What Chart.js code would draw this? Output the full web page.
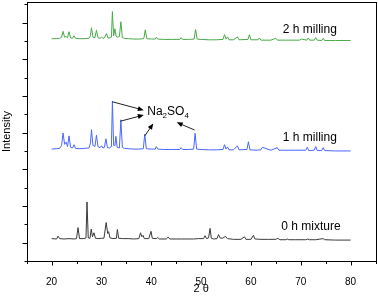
<!DOCTYPE html>
<html>
<head>
<meta charset="utf-8">
<script src="https://cdn.jsdelivr.net/npm/chart.js@4.4.0/dist/chart.umd.min.js"></script>
<style>
  html, body { margin: 0; padding: 0; background: #fff; }
  #wrap { width: 378px; height: 296px; }
</style>
</head>
<body>
<div id="wrap"><canvas id="xrd"></canvas></div>
<script>
// XRD patterns, intensity in arbitrary (offset) units
const xTickLabels = [20, 30, 40, 50, 60, 70, 80];
const xMinorTicks = [15, 25, 35, 45, 55, 65, 75, 85];
const yMajorTicks = [0.5, 1.5, 2.5, 3.5, 4.5, 5.5, 6.5];
const yMinorTicks = [0, 1, 2, 3, 4, 5, 6, 7];

const mixX = [20, 21.0, 21.3, 21.6, 22.5, 23.5, 24.5, 25.0, 25.3, 25.6, 26.5, 26.9, 27.1, 27.35, 27.7, 27.95, 28.2, 28.5, 28.8, 29.5,
  30.0, 30.5, 30.95, 31.25, 31.45, 31.7, 32.3, 33.0, 33.2, 33.45, 34.2, 35.5, 36.5, 37.5, 37.85, 38.1, 38.35, 38.6, 39.5, 39.95,
  40.2, 41.0, 41.3, 41.6, 43.0, 43.4, 43.7, 45, 46, 47, 48.5, 49.5, 50.5, 50.8, 51.1, 51.5, 51.8, 52.05, 52.5, 53.2,
  53.5, 53.8, 54.3, 54.9, 55.3, 56.5, 58, 58.7, 59.0, 60.0, 60.5, 60.8, 62, 63.5, 65, 65.4, 65.8, 67, 67.3, 67.6,
  69, 71, 71.4, 71.7, 73, 74.5, 74.8, 77, 80];
const mixY = [0.61, 0.60, 0.68, 0.61, 0.60, 0.61, 0.60, 0.61, 0.91, 0.61, 0.61, 0.63, 1.61, 0.63, 0.62, 0.87, 0.66, 0.77, 0.62, 0.61,
  0.62, 0.62, 1.05, 0.75, 0.80, 0.63, 0.61, 0.62, 0.86, 0.62, 0.61, 0.61, 0.60, 0.61, 0.77, 0.66, 0.70, 0.61, 0.61, 0.81,
  0.62, 0.61, 0.64, 0.60, 0.60, 0.65, 0.60, 0.60, 0.60, 0.60, 0.60, 0.61, 0.61, 0.69, 0.61, 0.63, 0.89, 0.62, 0.60, 0.61,
  0.72, 0.63, 0.62, 0.67, 0.61, 0.59, 0.59, 0.66, 0.59, 0.59, 0.70, 0.60, 0.59, 0.59, 0.59, 0.62, 0.58, 0.58, 0.60, 0.58,
  0.58, 0.58, 0.60, 0.58, 0.58, 0.61, 0.58, 0.57, 0.57];

const mill1X = [20, 21.0, 21.6, 22.0, 22.3, 22.6, 22.9, 23.2, 23.5, 23.8, 24.2, 24.5, 24.8, 25.5, 26.5, 27.5, 27.8, 28.0, 28.3, 28.7,
  29.0, 29.3, 29.7, 30.0, 30.3, 30.6, 30.9, 31.2, 31.6, 32.0, 32.2, 32.45, 32.7, 32.9, 33.15, 33.6, 33.9, 34.2, 34.6, 35.5,
  36.5, 37.5, 38.4, 38.7, 39.0, 40.0, 40.8, 41.0, 41.3, 42.5, 44, 45.7, 46.0, 46.3, 47.5, 48.5, 48.8, 49.1, 50, 51.5,
  53, 54.4, 54.7, 55.0, 55.3, 55.6, 56.5, 57.3, 57.6, 59.2, 59.5, 59.8, 61, 62, 62.3, 64, 65.3, 65.6, 67, 69,
  71.0, 71.3, 71.6, 72.7, 73.0, 73.3, 74.2, 74.5, 74.8, 77, 80];
const mill1Y = [3.05, 3.06, 3.07, 3.15, 3.49, 3.18, 3.24, 3.12, 3.41, 3.10, 3.08, 3.17, 3.07, 3.06, 3.07, 3.08, 3.22, 3.58, 3.15, 3.12,
  3.43, 3.12, 3.09, 3.14, 3.08, 3.10, 3.33, 3.09, 3.08, 3.12, 4.36, 3.15, 3.14, 3.40, 3.10, 3.08, 3.85, 3.10, 3.07, 3.06,
  3.05, 3.05, 3.06, 3.46, 3.06, 3.05, 3.05, 3.12, 3.05, 3.04, 3.04, 3.04, 3.09, 3.04, 3.04, 3.05, 3.48, 3.05, 3.04, 3.03,
  3.03, 3.04, 3.17, 3.05, 3.11, 3.03, 3.03, 3.14, 3.03, 3.04, 3.25, 3.03, 3.02, 3.03, 3.10, 3.02, 3.09, 3.02, 3.02, 3.02,
  3.02, 3.10, 3.01, 3.02, 3.12, 3.01, 3.01, 3.09, 3.01, 3.00, 3.00];

const mill2X = [20, 21.0, 21.6, 22.0, 22.3, 22.6, 22.9, 23.2, 23.5, 23.8, 24.2, 24.5, 24.8, 25.5, 26.5, 27.5, 27.8, 28.0, 28.3, 28.7,
  29.0, 29.3, 29.7, 30.0, 30.3, 30.6, 31.0, 31.3, 31.7, 32.0, 32.2, 32.45, 32.7, 32.95, 33.3, 33.6, 33.9, 34.2, 34.6, 35.5,
  36.5, 37.5, 38.5, 38.8, 39.1, 40.0, 40.8, 41.0, 41.3, 42.5, 44, 45.7, 46.0, 46.3, 47.5, 48.6, 48.9, 49.2, 50, 51.5,
  53, 54.4, 54.7, 55.0, 55.3, 55.6, 56.5, 57.3, 57.6, 59.4, 59.7, 60.0, 61.4, 61.7, 62.0, 64, 65.0, 65.3, 67, 69.8,
  70.1, 71.2, 71.5, 71.8, 72.7, 73.0, 73.3, 74.2, 74.5, 74.8, 77, 80];
const mill2Y = [6.06, 6.06, 6.07, 6.10, 6.26, 6.10, 6.12, 6.09, 6.25, 6.08, 6.07, 6.14, 6.07, 6.06, 6.06, 6.07, 6.14, 6.36, 6.10, 6.09,
  6.29, 6.09, 6.07, 6.10, 6.07, 6.08, 6.20, 6.08, 6.08, 6.10, 6.80, 6.14, 6.33, 6.12, 6.10, 6.12, 6.52, 6.09, 6.07, 6.06,
  6.05, 6.05, 6.06, 6.30, 6.06, 6.05, 6.05, 6.10, 6.05, 6.04, 6.04, 6.04, 6.09, 6.04, 6.04, 6.05, 6.31, 6.05, 6.04, 6.03,
  6.03, 6.04, 6.17, 6.05, 6.11, 6.03, 6.03, 6.11, 6.03, 6.04, 6.17, 6.03, 6.03, 6.08, 6.02, 6.02, 6.07, 6.02, 6.02, 6.02,
  6.05, 6.02, 6.08, 6.02, 6.02, 6.09, 6.02, 6.01, 6.07, 6.01, 6.01, 6.01];

// text labels and arrows, in data units
const seriesNames = ['0 h mixture', '1 h milling', '2 h milling'];
const nameX = [66.1, 66.4, 66.4];
const nameY = [0.93, 3.37, 6.31];
const phaseLabel = { x: 39.2, y: 4.07 };
const arrowFrom = [[32.2, 4.34], [33.8, 3.81], [38.7, 3.41], [48.7, 3.57]];
const arrowTo = [[38.5, 4.11], [38.5, 3.98], [40.4, 3.75], [45.1, 3.78]];

const FONT = '"Liberation Sans", Arial, sans-serif';
const pts = (xs, ys) => xs.map((x, i) => ({ x: x, y: ys[i] }));

const frame = {
  id: 'frame',
  afterDraw(chart) {
    const ctx = chart.ctx;
    const a = chart.chartArea;
    const xs = chart.scales.x, ys = chart.scales.y;
    ctx.save();
    ctx.strokeStyle = '#000';
    ctx.lineWidth = 1;
    ctx.strokeRect(Math.round(a.left) + 0.5, Math.round(a.top) + 0.5,
      Math.round(a.right) - Math.round(a.left), Math.round(a.bottom) - Math.round(a.top));
    ctx.beginPath();
    const by = Math.round(a.bottom) + 0.5;
    xTickLabels.forEach(v => { const p = Math.round(xs.getPixelForValue(v)) + 0.5; ctx.moveTo(p, by); ctx.lineTo(p, by + 4); });
    xMinorTicks.forEach(v => { const p = Math.round(xs.getPixelForValue(v)) + 0.5; ctx.moveTo(p, by); ctx.lineTo(p, by + 2.5); });
    const lx = Math.round(a.left) + 0.5;
    yMajorTicks.forEach(v => { const p = Math.round(ys.getPixelForValue(v)) + 0.5; ctx.moveTo(lx, p); ctx.lineTo(lx - 5, p); });
    yMinorTicks.forEach(v => { const p = Math.round(ys.getPixelForValue(v)) + 0.5; ctx.moveTo(lx, p); ctx.lineTo(lx - 3, p); });
    ctx.stroke();

    // series names
    ctx.fillStyle = '#000';
    ctx.font = '12px ' + FONT;
    ctx.textBaseline = 'middle';
    seriesNames.forEach((s, i) => ctx.fillText(s, xs.getPixelForValue(nameX[i]), ys.getPixelForValue(nameY[i])));

    // Na2SO4 with subscripts
    let tx = xs.getPixelForValue(phaseLabel.x);
    const ty = ys.getPixelForValue(phaseLabel.y);
    [['Na', 0], ['2', 1], ['SO', 0], ['4', 1]].forEach(([t, sub]) => {
      ctx.font = (sub ? '8px ' : '12px ') + FONT;
      ctx.fillText(t, tx, ty + (sub ? 4 : 0));
      tx += ctx.measureText(t).width;
    });

    // arrows
    ctx.strokeStyle = '#222';
    ctx.fillStyle = '#000';
    arrowFrom.forEach((f, i) => {
      const x0 = xs.getPixelForValue(f[0]), y0 = ys.getPixelForValue(f[1]);
      const x1 = xs.getPixelForValue(arrowTo[i][0]), y1 = ys.getPixelForValue(arrowTo[i][1]);
      const ang = Math.atan2(y1 - y0, x1 - x0);
      ctx.beginPath();
      ctx.moveTo(x0, y0);
      ctx.lineTo(x1 - 4 * Math.cos(ang), y1 - 4 * Math.sin(ang));
      ctx.stroke();
      ctx.beginPath();
      ctx.moveTo(x1, y1);
      ctx.lineTo(x1 - 6 * Math.cos(ang) + 2.5 * Math.sin(ang), y1 - 6 * Math.sin(ang) - 2.5 * Math.cos(ang));
      ctx.lineTo(x1 - 6 * Math.cos(ang) - 2.5 * Math.sin(ang), y1 - 6 * Math.sin(ang) + 2.5 * Math.cos(ang));
      ctx.closePath();
      ctx.fill();
    });
    ctx.restore();
  }
};

new Chart(document.getElementById('xrd'), {
  type: 'line',
  data: {
    datasets: [
      { label: '0 h mixture', data: pts(mixX, mixY), borderColor: '#3a3a3a' },
      { label: '1 h milling', data: pts(mill1X, mill1Y), borderColor: '#4a66ff' },
      { label: '2 h milling', data: pts(mill2X, mill2Y), borderColor: '#4aaa4a' }
    ]
  },
  options: {
    responsive: true,
    maintainAspectRatio: false,
    animation: false,
    layout: { padding: { top: 2, right: 2.5, left: 0, bottom: 0 } },
    elements: { point: { radius: 0 }, line: { borderWidth: 1, tension: 0 } },
    plugins: { legend: { display: false }, tooltip: { enabled: false } },
    scales: {
      x: {
        type: 'linear', min: 15, max: 85,
        afterBuildTicks: s => { s.ticks = xTickLabels.map(v => ({ value: v })); },
        afterFit: s => { s.height = 35; },
        grid: { display: false },
        border: { display: false },
        ticks: { color: '#000', padding: 7, font: { size: 10, family: FONT } },
        title: { display: true, text: '2 θ', color: '#000', padding: 0, font: { size: 11, family: FONT } }
      },
      y: {
        type: 'linear', min: 0, max: 7.06,
        afterFit: s => { s.width = 26.7; },
        grid: { display: false },
        border: { display: false },
        ticks: { display: false },
        title: { display: true, text: 'Intensity', color: '#000', padding: 0, font: { size: 11, family: FONT } }
      }
    }
  },
  plugins: [frame]
});
</script>
</body>
</html>
